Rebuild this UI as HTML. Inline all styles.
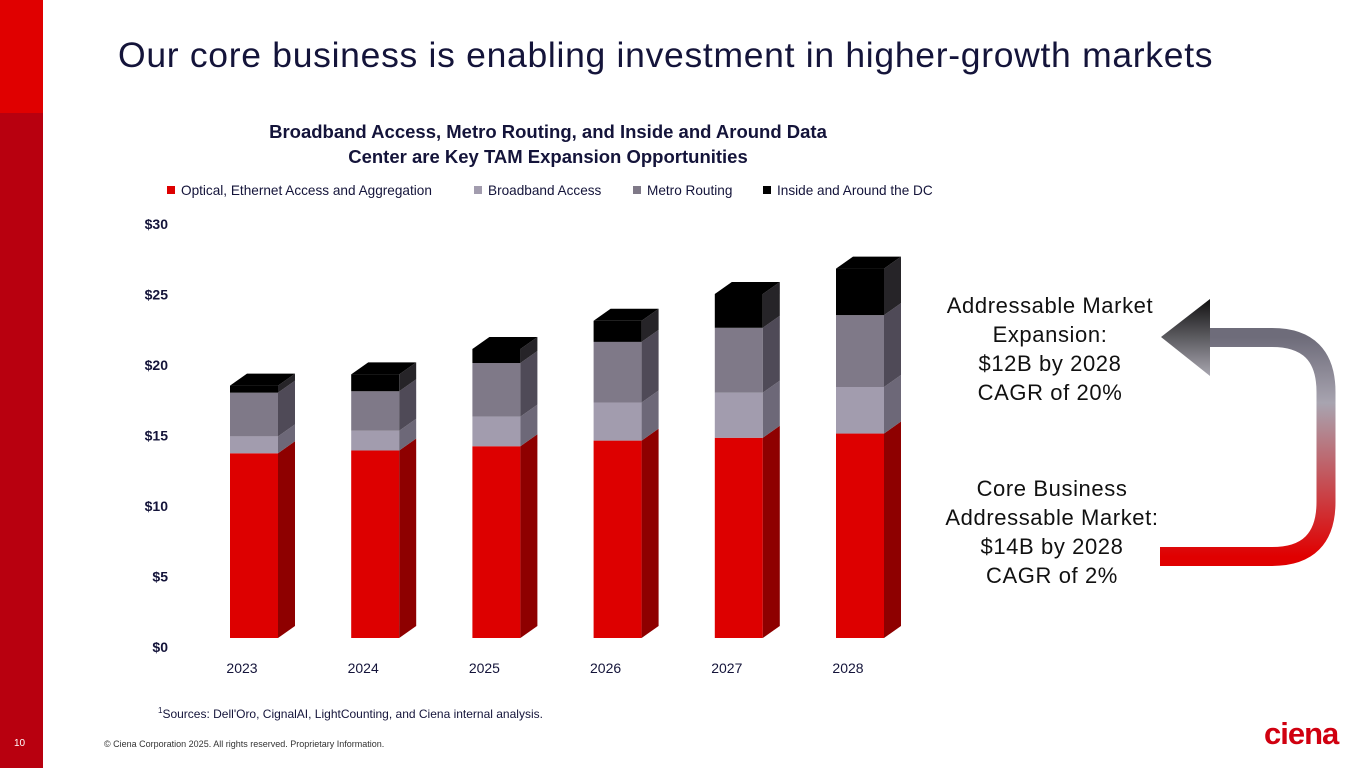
<!DOCTYPE html>
<html><head><meta charset="utf-8"><style>
body{margin:0;width:1365px;height:768px;position:relative;overflow:hidden;background:#fff;font-family:"Liberation Sans",Arial,sans-serif}
.abs{position:absolute}
</style></head><body>
<div class="abs" style="left:0;top:0;width:43px;height:113px;background:#e00000"></div>
<div class="abs" style="left:0;top:113px;width:43px;height:655px;background:#b8000f"></div>
<div class="abs" style="left:14px;top:738px;font-size:10px;color:#fff">10</div>
<div class="abs" style="left:118px;top:35px;font-size:35.5px;color:#14143a;letter-spacing:0.7px;white-space:nowrap">Our core business is enabling investment in higher-growth markets</div>
<div class="abs" style="left:198px;top:119px;width:700px;text-align:center;font-size:18.5px;font-weight:bold;color:#14143a;line-height:25px">Broadband Access, Metro Routing, and Inside and Around Data<br>Center are Key TAM Expansion Opportunities</div>
<svg class="abs" style="left:0;top:0" width="1365" height="768">
<defs>
<linearGradient id="ag" x1="0" y1="0" x2="0" y2="1"><stop offset="0" stop-color="#6e6c7a"/><stop offset="0.3" stop-color="#a8a4b0"/><stop offset="1" stop-color="#e00000"/></linearGradient>
<linearGradient id="hg" x1="0" y1="0" x2="0" y2="1"><stop offset="0" stop-color="#111"/><stop offset="1" stop-color="#a8a6b0"/></linearGradient>
</defs>
<g id="legend" font-size="13.6" fill="#14143a"></g>
<g id="yaxis" font-size="14" font-weight="bold" fill="#14143a"></g>
<g id="bars"></g>
<g id="xaxis" font-size="14" fill="#14143a"></g>
<path d="M1160,556.5 H1272 Q1326,556.5 1326,502 V392 Q1326,337.5 1272,337.5 H1205" fill="none" stroke="url(#ag)" stroke-width="19"/>
<polygon points="1161,337 1210,299 1210,376" fill="url(#hg)"/>
</svg>
<div class="abs" style="left:925px;top:291px;width:250px;text-align:center;font-size:22px;line-height:29px;color:#111;letter-spacing:0.6px">Addressable Market<br>Expansion:<br>$12B by 2028<br>CAGR of 20%</div>
<div class="abs" style="left:922px;top:474px;width:260px;text-align:center;font-size:22px;line-height:29px;color:#111;letter-spacing:0.6px">Core Business<br>Addressable Market:<br>$14B by 2028<br>CAGR of 2%</div>
<div class="abs" style="left:158px;top:706px;font-size:12px;color:#14143a"><sup style="font-size:8px">1</sup>Sources: Dell'Oro, CignalAI, LightCounting, and Ciena internal analysis.</div>
<div class="abs" style="left:104px;top:739px;font-size:9px;color:#333">© Ciena Corporation 2025. All rights reserved. Proprietary Information.</div>
<div class="abs" style="left:1264px;top:716px;font-size:31px;font-weight:bold;color:#d00010;letter-spacing:-1px">ciena</div>
<script>
const years=["2023","2024","2025","2026","2027","2028"];
const optical=[13.1,13.3,13.6,14.0,14.2,14.5];
const broadband=[1.2,1.4,2.1,2.7,3.2,3.3];
const metro=[3.1,2.8,3.8,4.3,4.6,5.1];
const dc=[0.5,1.2,1.0,1.5,2.4,3.3];
const yTicks=[0,5,10,15,20,25,30];
const seriesNames=["Optical, Ethernet Access and Aggregation","Broadband Access","Metro Routing","Inside and Around the DC"];
const NS="http://www.w3.org/2000/svg";
const y0=638,pxPer=14.1,x0=230,step=121.2,bw=48,dx=17,dy=12;
const Y=v=>y0-v*pxPer, X=i=>x0+i*step;
const cols=[["#dd0000","#8e0000"],["#a29cae","#6d6878"],["#7f7988","#4f4a57"],["#000","#262428"]];
function el(t,a,p){const e=document.createElementNS(NS,t);for(const k in a)e.setAttribute(k,a[k]);p.appendChild(e);return e;}
const yg=document.getElementById('yaxis');
yTicks.forEach(t=>{const e=el('text',{x:168,y:Y(t)+14,'text-anchor':'end'},yg);e.textContent='$'+t;

});
const bg=document.getElementById('bars'),xg=document.getElementById('xaxis');
const data=[optical,broadband,metro,dc];
years.forEach((yr,i)=>{
 let base=0;const x=X(i);
 data.forEach((s,k)=>{
  const v=s[i],yt=Y(base+v),yb=Y(base);
  const f=el('rect',{x:x,y:yt,width:bw,height:yb-yt,fill:cols[k][0]},bg);
  
  
  const sd=el('polygon',{points:`${x+bw},${yt} ${x+bw+dx},${yt-dy} ${x+bw+dx},${yb-dy} ${x+bw},${yb}`,fill:cols[k][1]},bg);
  
  
  base+=v;
 });
 const yt=Y(base);
 const tp=el('polygon',{points:`${x},${yt} ${x+dx},${yt-dy} ${x+bw+dx},${yt-dy} ${x+bw},${yt}`,fill:'#000'},bg);
 
 
 const t=el('text',{x:x+12,y:673,'text-anchor':'middle'},xg);t.textContent=yr;
 
 
});
const lg=document.getElementById('legend');
const lx=[167,474,633,763],lc=["#dd0000","#a29cae","#7f7988","#000"];
seriesNames.forEach((n,k)=>{
 const r=el('rect',{x:lx[k],y:186,width:8,height:8,fill:lc[k]},lg);
 
 
 const t=el('text',{x:lx[k]+14,y:195},lg);t.textContent=n;
 
 
});
</script>
</body></html>
